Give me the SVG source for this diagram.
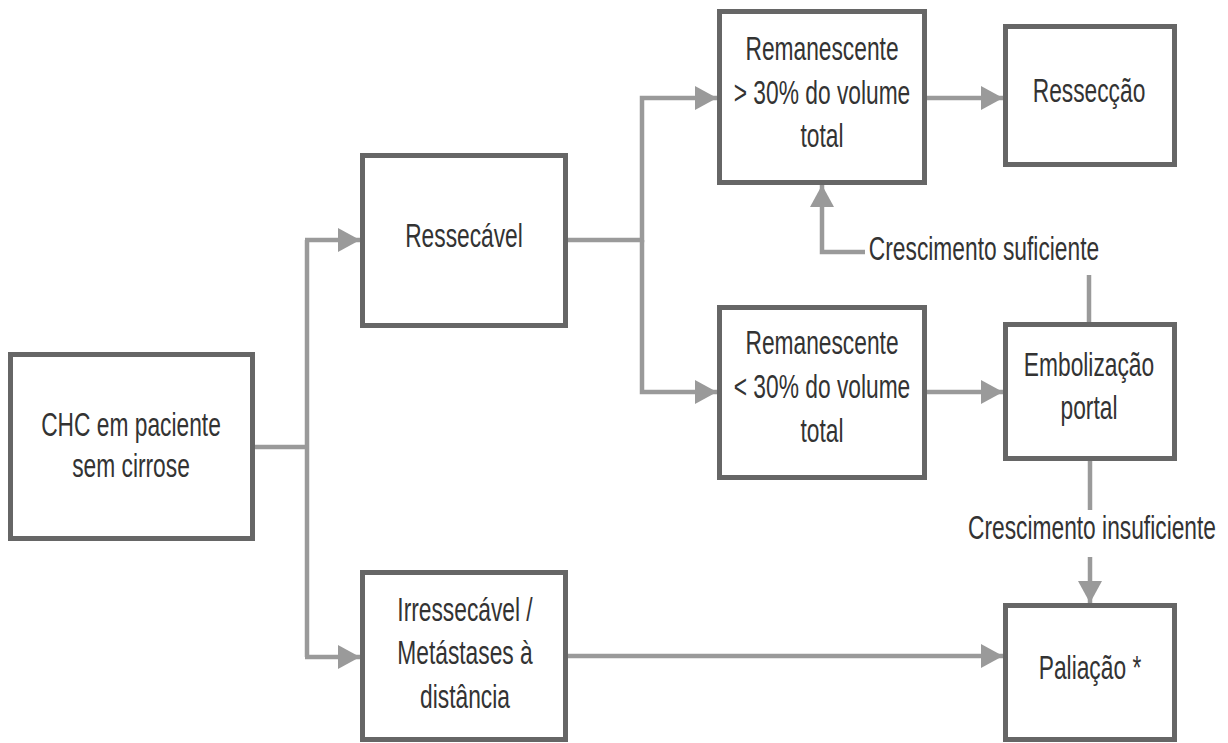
<svg xmlns="http://www.w3.org/2000/svg" width="1228" height="743" viewBox="0 0 1228 743">
<style>
.box{fill:#fff;stroke:#666;stroke-width:5}
.c{fill:none;stroke:#9a9a9a;stroke-width:4.5}
.t{font-family:"Liberation Sans",Arial,sans-serif;font-size:34px;fill:#333;text-anchor:middle}
</style>
<defs>
<marker id="ah" markerUnits="userSpaceOnUse" markerWidth="22" markerHeight="24" refX="22" refY="12" orient="auto">
<path d="M0,0 L22,12 L0,24 z" fill="#9a9a9a"/>
</marker>
</defs>
<rect width="1228" height="743" fill="#fff"/>
<g id="connectors">
<path class="c" d="M253,447 H307"/>
<path class="c" d="M307,240 V657"/>
<path class="c" d="M305,240 H360" marker-end="url(#ah)"/>
<path class="c" d="M305,657 H360" marker-end="url(#ah)"/>
<path class="c" d="M566,240 H642 V98 H717" marker-end="url(#ah)"/>
<path class="c" d="M642,240 V392 H717" marker-end="url(#ah)"/>
<path class="c" d="M927,98 H1003" marker-end="url(#ah)"/>
<path class="c" d="M927,392 H1003" marker-end="url(#ah)"/>
<path class="c" d="M566,656 H1003" marker-end="url(#ah)"/>
<path class="c" d="M1089,323 V275"/>
<path class="c" d="M865,252 H822 V185" marker-end="url(#ah)"/>
<path class="c" d="M1090,461 V510"/>
<path class="c" d="M1090,557 V603" marker-end="url(#ah)"/>
<text class="t" transform="translate(984,260) scale(0.67,1)">Crescimento suficiente</text>
<text class="t" transform="translate(1092,539) scale(0.67,1)">Crescimento insuficiente</text>
</g>
<g id="n-chc">
<rect class="box" x="10.5" y="354.5" width="242" height="184"/>
<text class="t" transform="translate(131,436) scale(0.67,1)"><tspan x="0" y="0">CHC em paciente</tspan><tspan x="0" y="41">sem cirrose</tspan></text>
</g>
<g id="n-ressecavel">
<rect class="box" x="362.5" y="155.5" width="203" height="170"/>
<text class="t" transform="translate(464,247) scale(0.67,1)">Ressecável</text>
</g>
<g id="n-rem-maior">
<rect class="box" x="719.5" y="11.5" width="205" height="171"/>
<text class="t" transform="translate(822,60) scale(0.67,1)"><tspan x="0" y="0">Remanescente</tspan><tspan x="0" y="44">&gt; 30% do volume</tspan><tspan x="0" y="87">total</tspan></text>
</g>
<g id="n-resseccao">
<rect class="box" x="1005.5" y="26.5" width="169" height="138"/>
<text class="t" transform="translate(1089,102) scale(0.67,1)">Ressecção</text>
</g>
<g id="n-rem-menor">
<rect class="box" x="719.5" y="307.5" width="205" height="170"/>
<text class="t" transform="translate(822,354) scale(0.67,1)"><tspan x="0" y="0">Remanescente</tspan><tspan x="0" y="44">&lt; 30% do volume</tspan><tspan x="0" y="88">total</tspan></text>
</g>
<g id="n-embolizacao">
<rect class="box" x="1005.5" y="324.5" width="169" height="134"/>
<text class="t" transform="translate(1089,376) scale(0.67,1)"><tspan x="0" y="0">Embolização</tspan><tspan x="0" y="43">portal</tspan></text>
</g>
<g id="n-irressecavel">
<rect class="box" x="362.5" y="572.5" width="203" height="167"/>
<text class="t" transform="translate(465,621) scale(0.67,1)"><tspan x="0" y="0">Irressecável /</tspan><tspan x="0" y="43">Metástases à</tspan><tspan x="0" y="87">distância</tspan></text>
</g>
<g id="n-paliacao">
<rect class="box" x="1005.5" y="605.5" width="169" height="134"/>
<text class="t" transform="translate(1090,679) scale(0.67,1)">Paliação *</text>
</g>
</svg>
